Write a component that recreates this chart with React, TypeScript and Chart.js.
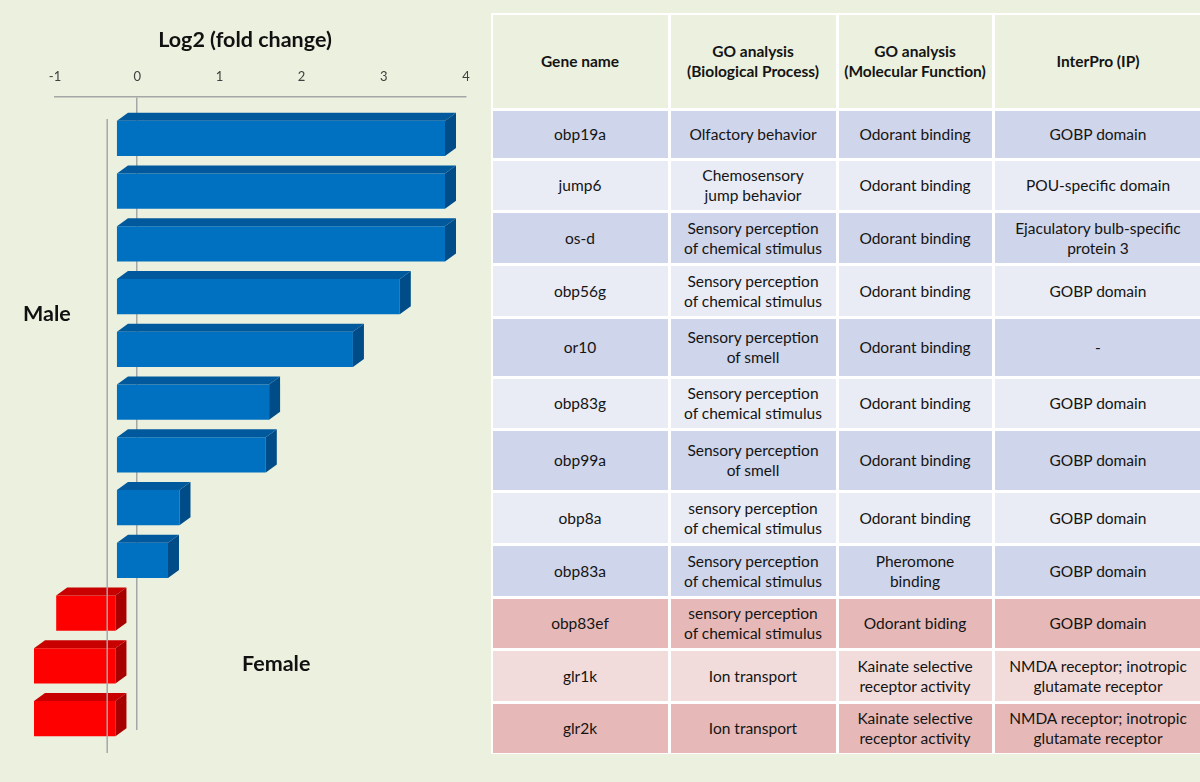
import React, { useEffect, useRef } from "react";
import { Chart, registerables } from "chart.js";

Chart.register(...registerables);

// ---------- data ----------
const genes = ["obp19a", "jump6", "os-d", "obp56g", "or10", "obp83g", "obp99a", "obp8a", "obp83a", "obp83ef", "glr1k", "glr2k"];
const log2FoldChange = [4.0, 4.0, 4.0, 3.45, 2.88, 1.86, 1.82, 0.77, 0.63, -0.73, -1.0, -1.0];
const axisMin = -1;
const axisMax = 4;
const axisStep = 1;

const headers = ["Gene name", "GO analysis\n(Biological Process)", "GO analysis\n(Molecular Function)", "InterPro (IP)"];
const bioProcess = [
  "Olfactory behavior",
  "Chemosensory\njump behavior",
  "Sensory perception\nof chemical stimulus",
  "Sensory perception\nof chemical stimulus",
  "Sensory perception\nof smell",
  "Sensory perception\nof chemical stimulus",
  "Sensory perception\nof smell",
  "sensory perception\nof chemical stimulus",
  "Sensory perception\nof chemical stimulus",
  "sensory perception\nof chemical stimulus",
  "Ion transport",
  "Ion transport",
];
const molFunction = [
  "Odorant binding",
  "Odorant binding",
  "Odorant binding",
  "Odorant binding",
  "Odorant binding",
  "Odorant binding",
  "Odorant binding",
  "Odorant binding",
  "Pheromone\nbinding",
  "Odorant biding",
  "Kainate selective\nreceptor activity",
  "Kainate selective\nreceptor activity",
];
const interPro = [
  "GOBP domain",
  "POU-specific domain",
  "Ejaculatory bulb-specific\nprotein 3",
  "GOBP domain",
  "-",
  "GOBP domain",
  "GOBP domain",
  "GOBP domain",
  "GOBP domain",
  "GOBP domain",
  "NMDA receptor; inotropic\nglutamate receptor",
  "NMDA receptor; inotropic\nglutamate receptor",
];

// ---------- styles ----------
const BG = "#EBF1DE";
const BLUE = "#0070C0";
const BLUE_TOP = "#00599C";
const BLUE_SIDE = "#004C88";
const RED = "#FF0000";
const RED_TOP = "#C80000";
const RED_SIDE = "#A80000";
const LINE = "#A6A6A6";
const FONT = "Lato, 'Liberation Sans', sans-serif";

const DEPTH_X = 11;
const DEPTH_Y = -8;
const FRONT_SHIFT_X = -21;
const FRONT_SHIFT_Y = 15;

// table layout
const colBounds = [491, 669, 837, 993, 1203];
const rowBounds = [13, 109, 159, 211, 264, 317, 377, 429, 491, 544, 597, 649, 702, 754];

const rowColor = (i: number) => {
  if (i < 9) return i % 2 === 0 ? "#CFD5EA" : "#E9EBF5";
  return (i - 9) % 2 === 0 ? "#E6B9B8" : "#F2DCDB";
};

const bars3d = {
  id: "bars3d",
  beforeDatasetsDraw(chart: any) {
    chart.ctx.save();
    chart.ctx.translate(FRONT_SHIFT_X, FRONT_SHIFT_Y);
  },
  afterDatasetsDraw(chart: any) {
    const ctx = chart.ctx;
    const meta = chart.getDatasetMeta(0);
    meta.data.forEach((el: any, i: number) => {
      const p = el.getProps(["x", "y", "base", "height"], true);
      const l = Math.min(p.x, p.base);
      const r = Math.max(p.x, p.base);
      const t = p.y - p.height / 2;
      const b = p.y + p.height / 2;
      const neg = log2FoldChange[i] < 0;
      ctx.fillStyle = neg ? RED_TOP : BLUE_TOP;
      ctx.beginPath();
      ctx.moveTo(l, t);
      ctx.lineTo(l + DEPTH_X, t + DEPTH_Y);
      ctx.lineTo(r + DEPTH_X, t + DEPTH_Y);
      ctx.lineTo(r, t);
      ctx.closePath();
      ctx.fill();
      ctx.fillStyle = neg ? RED_SIDE : BLUE_SIDE;
      ctx.beginPath();
      ctx.moveTo(r, t);
      ctx.lineTo(r + DEPTH_X, t + DEPTH_Y);
      ctx.lineTo(r + DEPTH_X, b + DEPTH_Y);
      ctx.lineTo(r, b);
      ctx.closePath();
      ctx.fill();
    });
    ctx.restore();
    // front wall line
    const zx = chart.scales.x.getPixelForValue(0);
    ctx.save();
    ctx.strokeStyle = LINE;
    ctx.lineWidth = 1.5;
    ctx.beginPath();
    ctx.moveTo(zx - 30, chart.chartArea.top + 22);
    ctx.lineTo(zx - 30, chart.chartArea.bottom + 23);
    ctx.stroke();
    ctx.restore();
  },
};

function BarChart() {
  const ref = useRef<HTMLCanvasElement>(null);
  useEffect(() => {
    if (!ref.current) return;
    const chart = new Chart(ref.current, {
      type: "bar",
      data: {
        labels: genes,
        datasets: [
          {
            data: log2FoldChange,
            backgroundColor: log2FoldChange.map((v) => (v < 0 ? RED : BLUE)),
            borderWidth: 0,
            categoryPercentage: 1,
            barPercentage: 0.665,
            clip: false as any,
          },
        ],
      },
      options: {
        indexAxis: "y",
        animation: false,
        responsive: false,
        devicePixelRatio: 1,
        layout: { padding: { left: 55, right: 24, top: 57, bottom: 52 } },
        plugins: { legend: { display: false }, tooltip: { enabled: false }, title: { display: false } },
        scales: {
          x: {
            position: "top",
            min: axisMin,
            max: axisMax,
            ticks: {
              stepSize: axisStep,
              padding: 12,
              color: "#404040",
              font: { family: FONT, size: 13 },
            },
            grid: {
              drawTicks: false,
              lineWidth: 1.5,
              color: (c: any) => (c.tick && c.tick.value === 0 ? LINE : "rgba(0,0,0,0)"),
            },
            border: { display: true, color: LINE, width: 1.5 },
            afterFit: (scale: any) => {
              scale.height = 40;
            },
          },
          y: { display: false },
        },
      },
      plugins: [bars3d],
    });
    return () => chart.destroy();
  }, []);
  return <canvas ref={ref} width={490} height={782} style={{ position: "absolute", left: 0, top: 0 }} />;
}

function Cell({ text, col, row, bg, bold }: { text: string; col: number; row: number; bg: string; bold?: boolean }) {
  const left = colBounds[col] + 1.5;
  const width = colBounds[col + 1] - colBounds[col] - 3;
  const top = rowBounds[row] + 1.5;
  const height = rowBounds[row + 1] - rowBounds[row] - 3;
  return (
    <div
      style={{
        position: "absolute",
        left,
        top,
        width,
        height,
        background: bg,
        display: "flex",
        alignItems: "center",
        justifyContent: "center",
        textAlign: "center",
        whiteSpace: "pre-line",
        fontFamily: FONT,
        fontSize: bold ? 15.5 : 15.5,
        fontWeight: bold ? 700 : 400,
        lineHeight: "20px",
        color: "#141414",
      }}
    >
      {text}
    </div>
  );
}

export default function App() {
  useEffect(() => {
    document.body.style.margin = "0";
    document.body.style.background = BG;
  }, []);
  const cols = [genes, bioProcess, molFunction, interPro];
  return (
    <div style={{ position: "relative", width: 1200, height: 782, background: BG, overflow: "hidden" }}>
      <BarChart />
      <div
        style={{
          position: "absolute",
          left: 0,
          width: 490,
          top: 26,
          textAlign: "center",
          fontFamily: FONT,
          fontWeight: 700,
          fontSize: 21.5,
          color: "#111",
        }}
      >
        Log2 (fold change)
      </div>
      <div style={{ position: "absolute", left: 23, top: 300, fontFamily: FONT, fontWeight: 700, fontSize: 21.5, color: "#111" }}>
        Male
      </div>
      <div style={{ position: "absolute", left: 242, top: 650, fontFamily: FONT, fontWeight: 700, fontSize: 21.5, color: "#111" }}>
        Female
      </div>
      <div
        style={{
          position: "absolute",
          left: colBounds[0],
          top: rowBounds[0],
          width: colBounds[4] - colBounds[0],
          height: rowBounds[rowBounds.length - 1] - rowBounds[0],
          background: "#FFFFFF",
        }}
      />
      {headers.map((h, c) => (
        <Cell key={"h" + c} text={h} col={c} row={0} bg={BG} bold />
      ))}
      {genes.map((_, r) =>
        cols.map((colData, c) => <Cell key={r + "-" + c} text={colData[r]} col={c} row={r + 1} bg={rowColor(r)} />)
      )}
    </div>
  );
}
